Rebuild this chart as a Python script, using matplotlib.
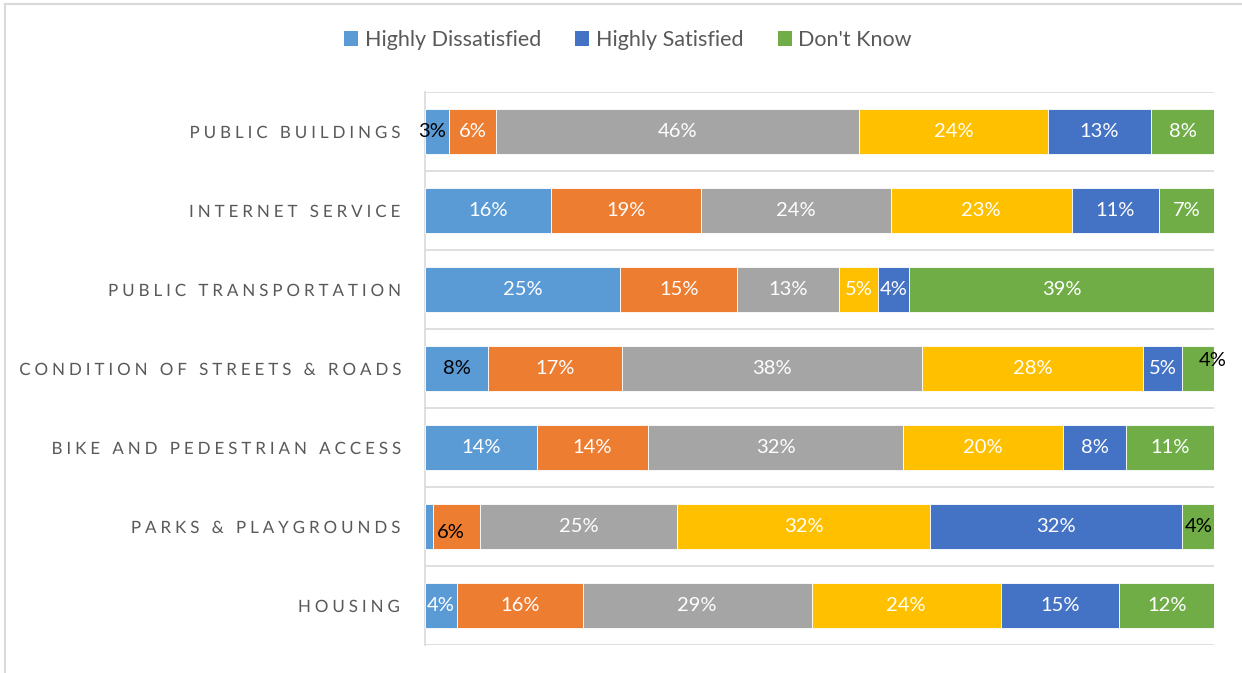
import matplotlib
matplotlib.use("Agg")
import matplotlib.pyplot as plt
import numpy as np
from matplotlib.lines import Line2D
from matplotlib.patches import Patch
from matplotlib.path import Path
from matplotlib.patheffects import AbstractPathEffect
from matplotlib.transforms import IdentityTransform

categories = ["PUBLIC BUILDINGS", "INTERNET SERVICE", "PUBLIC TRANSPORTATION",
              "CONDITION OF STREETS & ROADS", "BIKE AND PEDESTRIAN ACCESS",
              "PARKS & PLAYGROUNDS", "HOUSING"]
series_names = ["Highly Dissatisfied", "Dissatisfied", "Neutral", "Satisfied",
                "Highly Satisfied", "Don't Know"]
legend_series = ["Highly Dissatisfied", "Highly Satisfied", "Don't Know"]

highly_dissatisfied = [3, 16, 25, 8, 14, 1, 4]
dissatisfied = [6, 19, 15, 17, 14, 6, 16]
neutral = [46, 24, 13, 38, 32, 25, 29]
satisfied = [24, 23, 5, 28, 20, 32, 24]
highly_satisfied = [13, 11, 4, 5, 8, 32, 15]
dont_know = [8, 7, 39, 4, 11, 4, 12]

colors = ["#5B9BD5", "#ED7D31", "#A5A5A5", "#FFC000", "#4472C4", "#70AD47"]


class LetterSpacing(AbstractPathEffect):
    """Render text with extra tracking between glyphs, anchored at the right edge."""

    def __init__(self, text, spacing_px):
        super().__init__()
        self.text = text
        self.spacing = spacing_px

    def draw_path(self, renderer, gc, tpath, affine, rgbFace=None):
        path = affine.transform_path(tpath)
        verts = np.array(path.vertices, dtype=float)
        codes = path.codes
        if codes is None or len(verts) == 0:
            renderer.draw_path(gc, path, IdentityTransform(), rgbFace)
            return
        starts = list(np.where(codes == Path.MOVETO)[0]) + [len(codes)]
        contours = []
        for a, b in zip(starts[:-1], starts[1:]):
            sel = codes[a:b] != Path.CLOSEPOLY
            xs = verts[a:b][sel, 0]
            contours.append((a, b, xs.min(), xs.max()))
        groups = []
        for (a, b, x0, x1) in contours:
            if groups:
                g = groups[-1]
                w = max(min(x1 - x0, g["x1"] - g["x0"]), 1e-6)
                ov = min(x1, g["x1"]) - max(x0, g["x0"])
                if ov / w > 0.6:
                    g["items"].append((a, b))
                    g["x0"] = min(g["x0"], x0)
                    g["x1"] = max(g["x1"], x1)
                    continue
            groups.append({"items": [(a, b)], "x0": x0, "x1": x1})
        char_idx = [i for i, ch in enumerate(self.text) if not ch.isspace()]
        n = len(self.text)
        if len(char_idx) != len(groups):
            char_idx = list(range(len(groups)))
            n = len(groups)
        for gi, g in enumerate(groups):
            shift = -(n - 1 - char_idx[gi]) * self.spacing
            for (a, b) in g["items"]:
                verts[a:b, 0] += shift
        renderer.draw_path(gc, Path(verts, codes), IdentityTransform(), rgbFace)


data = np.array([highly_dissatisfied, dissatisfied, neutral, satisfied,
                 highly_satisfied, dont_know], dtype=float)
shares = data / data.sum(axis=0) * 100.0

fig = plt.figure(figsize=(12.42, 6.73), dpi=100)
ax = fig.add_axes([425 / 1242, 1 - 645 / 673, (1214 - 425) / 1242, (645 - 92) / 673])

ypos = np.arange(len(categories))[::-1]
left = np.zeros(len(categories))
bar_h = 0.56

special = {
    (0, 0): ("black", -5, 0),
    (0, 3): ("black", 0, 0),
    (5, 3): ("black", 14, -8),
    (1, 5): ("black", -6, 6),
    (5, 5): ("black", 0, 0),
    (0, 5): None,
}

for s in range(len(series_names)):
    vals = shares[s]
    ax.barh(ypos, vals, left=left, height=bar_h, color=colors[s],
            edgecolor="white", linewidth=0.6, label=series_names[s], zorder=3)
    for c in range(len(categories)):
        key = (s, c)
        col, dx, dy = "white", 0, 0
        if key in special:
            if special[key] is None:
                continue
            col, dx, dy = special[key]
        cx = left[c] + vals[c] / 2
        ax.annotate(f"{int(data[s, c])}%", (cx, ypos[c]), xytext=(dx * 0.72, -dy * 0.72),
                    textcoords="offset points", ha="center", va="center",
                    color=col, fontsize=14.5, family="Lato", zorder=5)
    left += vals

ax.set_xlim(0, 100)
ax.set_ylim(-0.5, len(categories) - 0.5)
ax.set_yticks(ypos)
ax.set_yticklabels(categories, fontsize=12.2, color="#595959", family="Lato")
for lbl in ax.get_yticklabels():
    lbl.set_path_effects([LetterSpacing(lbl.get_text(), 3.95)])
ax.tick_params(axis="y", length=0, pad=18.7)
ax.set_xticks([])
for sp in ["top", "right", "bottom"]:
    ax.spines[sp].set_visible(False)
ax.spines["left"].set_color("#D9D9D9")
ax.spines["left"].set_linewidth(1.2)

for b in np.arange(-0.5, len(categories), 1.0):
    ax.axhline(b, color="#D9D9D9", linewidth=1.2, zorder=1)

handles = [Patch(facecolor=colors[series_names.index(n)], edgecolor="none") for n in legend_series]
leg = fig.legend(handles, legend_series, loc="center", bbox_to_anchor=(628 / 1242, 1 - 40 / 673),
                 ncol=3, frameon=False, handlelength=0.65, handleheight=0.65,
                 handletextpad=0.3, columnspacing=1.6, prop={"family": "Lato", "size": 15.5})
for t in leg.get_texts():
    t.set_color("#595959")

fig.add_artist(Line2D([5 / 1242, 5 / 1242], [0, 1 - 4 / 673], color="#D9D9D9", linewidth=1.5,
                      transform=fig.transFigure))
fig.add_artist(Line2D([5 / 1242, 1], [1 - 4 / 673, 1 - 4 / 673], color="#D9D9D9", linewidth=1.5,
                      transform=fig.transFigure))

fig.savefig("out.png", dpi=100, facecolor="white")
